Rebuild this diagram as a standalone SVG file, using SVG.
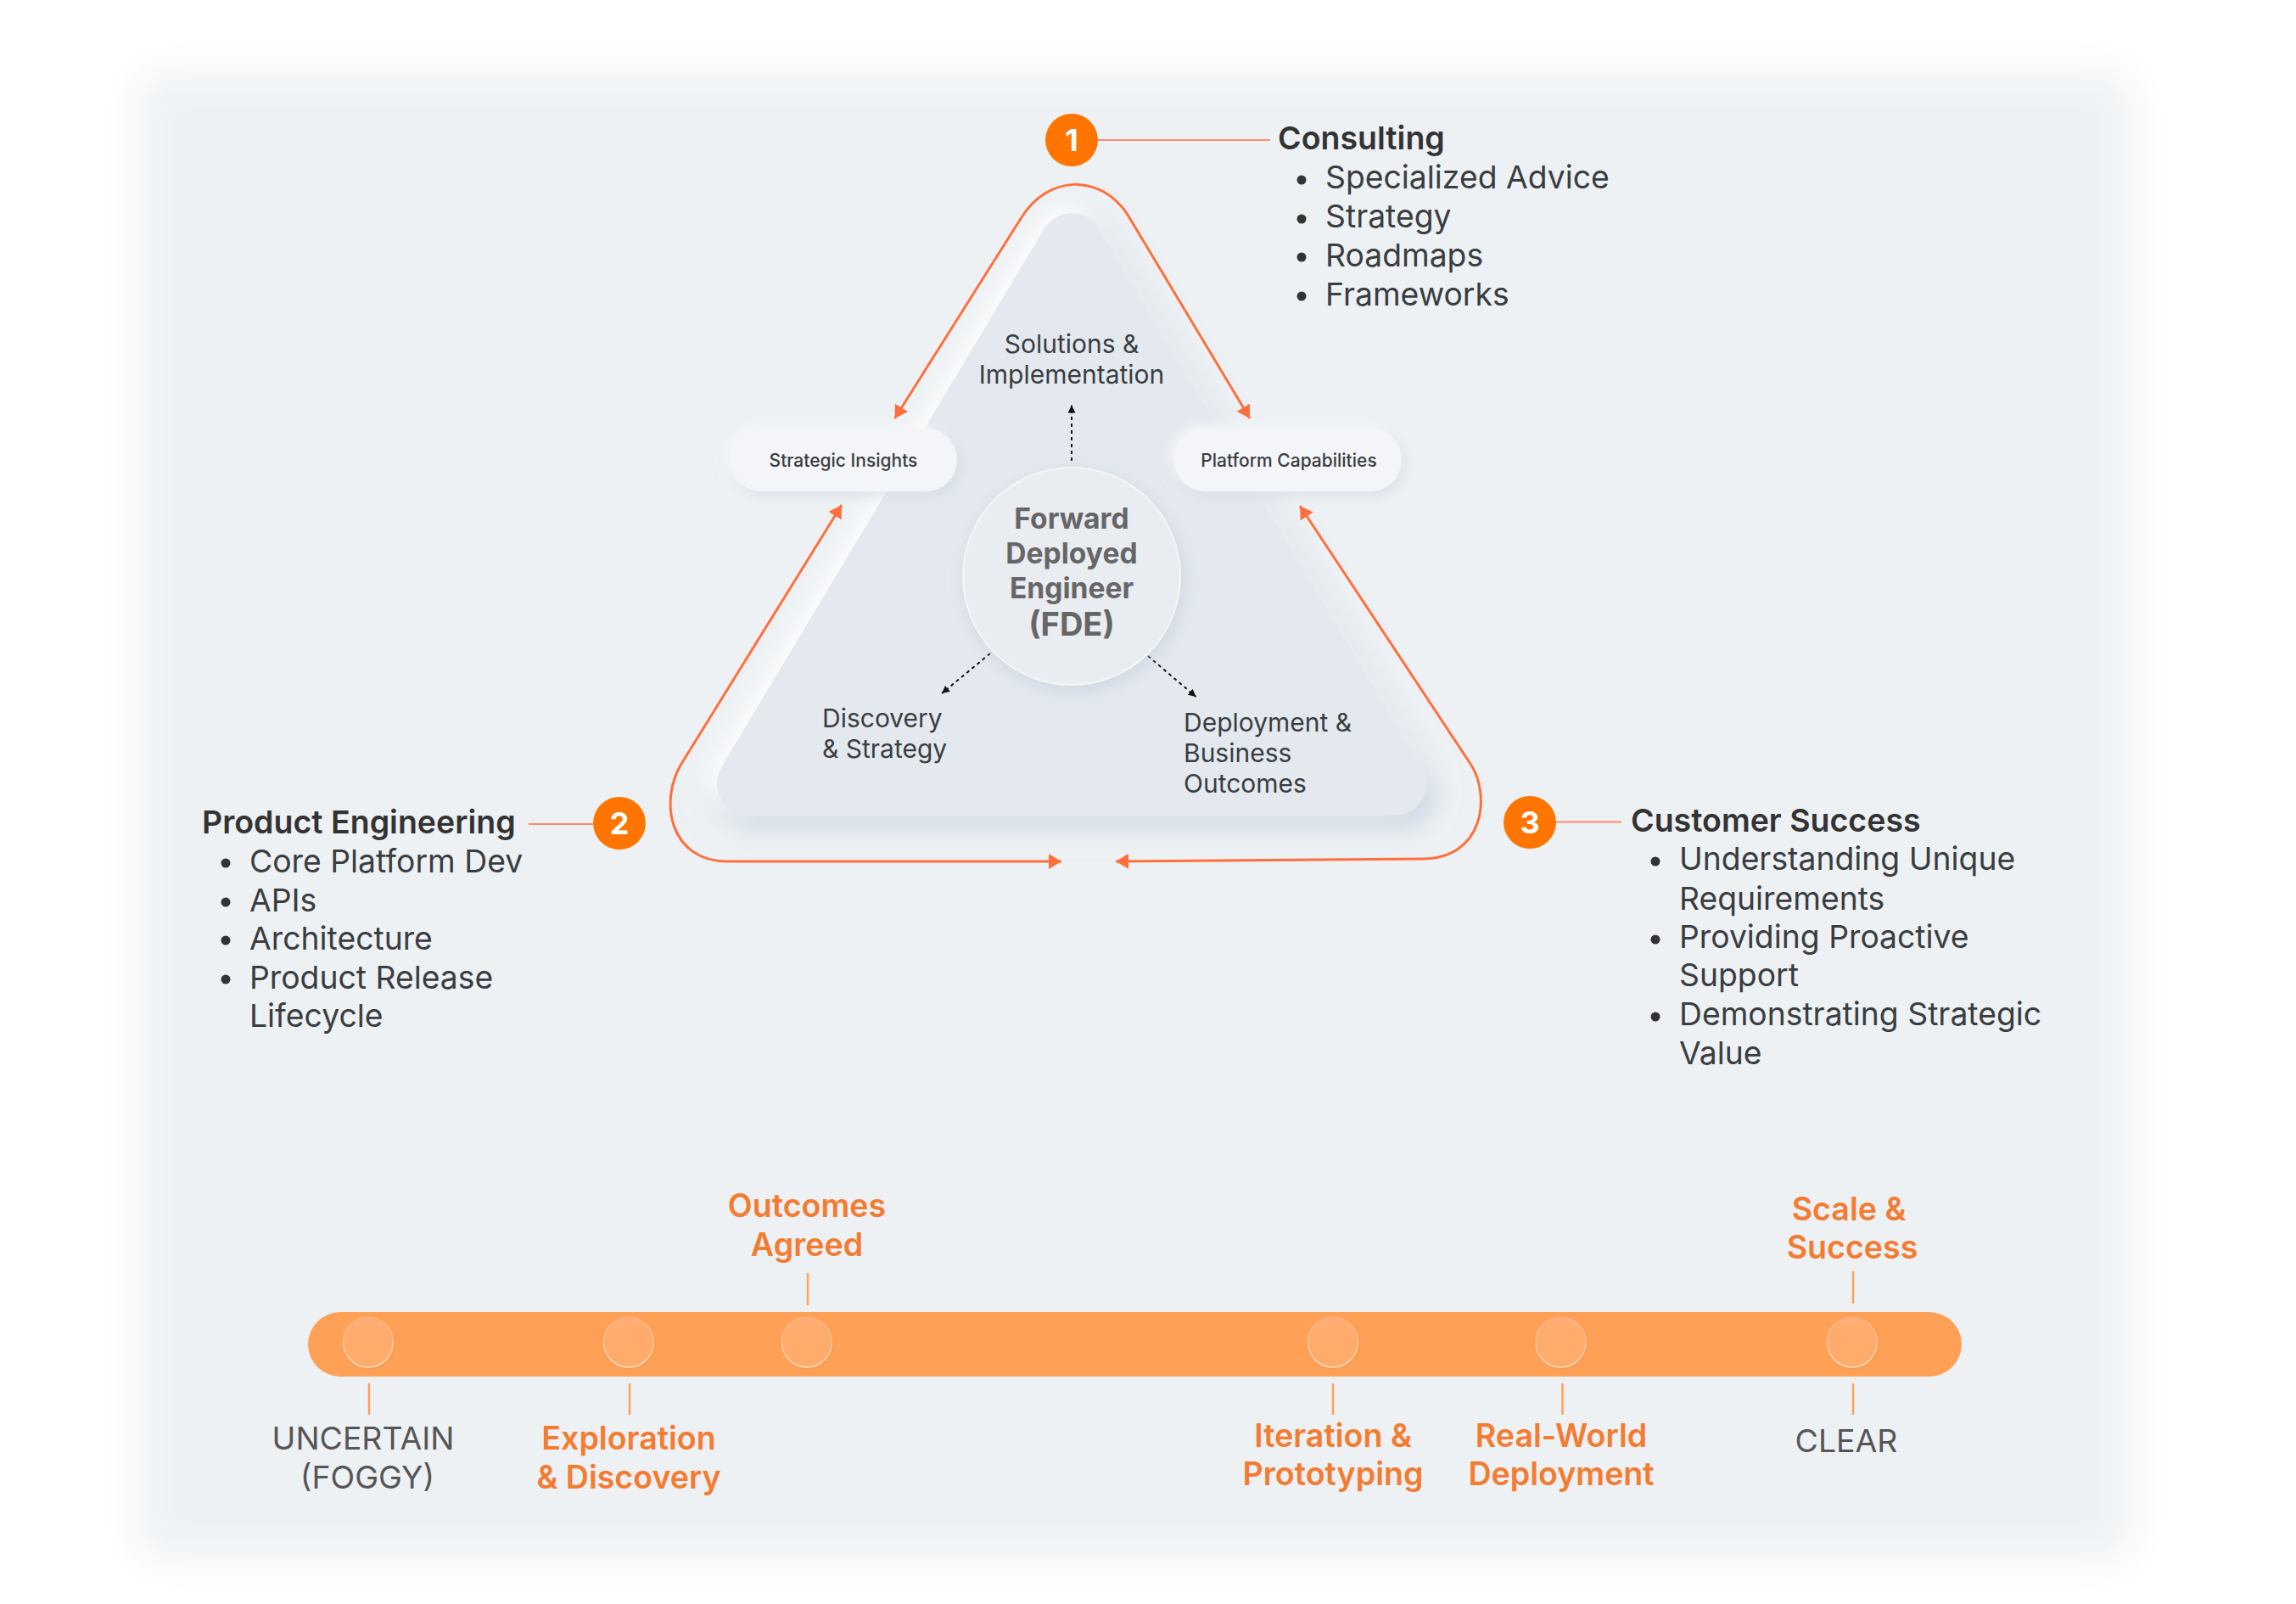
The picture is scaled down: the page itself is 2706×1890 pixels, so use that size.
<svg xmlns="http://www.w3.org/2000/svg" width="2706" height="1890" viewBox="0 0 2706 1890">
<style>
text{font-family:"Inter","Liberation Sans",sans-serif}
.h{font-size:37.500px;font-weight:600;fill:#333}
.b{font-size:37.300px;font-weight:400;fill:#3A3D40}
.l{font-size:30px;font-weight:400;fill:#3A3D40}
.p{font-size:21px;font-weight:500;fill:#3A3D40;text-anchor:middle}
.c{font-size:33.600px;font-weight:700;fill:#666;text-anchor:middle}
.cl{font-size:38px}
.o{font-size:37.600px;font-weight:600;fill:#F47B30;text-anchor:middle}
.g{font-size:37.400px;font-weight:400;fill:#555;text-anchor:middle}
.n{font-size:36px;font-weight:700;fill:#fff;text-anchor:middle}
.dot{fill:#333}
.badge{fill:#FF7500}
.lead{stroke:#FF8A6B;stroke-width:2;fill:none}
.tick{stroke:#FFA057;stroke-width:2.5;fill:none}
.flow{stroke:#FF6F3C;stroke-width:3;fill:none;marker-end:url(#ah)}
.dash{stroke:#111;stroke-width:2;stroke-dasharray:4 4;fill:none;marker-end:url(#dh)}
.knob{fill:url(#kf);stroke:url(#ks);stroke-width:1.5;filter:url(#ksh)}
</style>
<defs>
<marker id="ah" markerUnits="userSpaceOnUse" markerWidth="16" markerHeight="18" refX="15" refY="9" orient="auto"><path d="M0 0L15 9L0 18Z" fill="#FF6F3C"/></marker>
<marker id="dh" markerUnits="userSpaceOnUse" markerWidth="9" markerHeight="9" refX="9" refY="4.5" orient="auto"><path d="M0 0L9 4.5L0 9Z" fill="#111"/></marker>
<linearGradient id="kf" x1="0" y1="0" x2="0" y2="1"><stop offset="0" stop-color="#FFAE74"/><stop offset="0.3" stop-color="#FFAB6D"/><stop offset="1" stop-color="#FFAB6B"/></linearGradient>
<linearGradient id="ks" x1="0" y1="0" x2="0" y2="1"><stop offset="0" stop-color="#FFB27C"/><stop offset="1" stop-color="#FFDDBE"/></linearGradient>
<filter id="bg" x="-5%" y="-5%" width="110%" height="110%"><feGaussianBlur stdDeviation="24"/></filter>
<filter id="tri" x="-15%" y="-15%" width="130%" height="130%"><feDropShadow dx="-12" dy="-10" stdDeviation="14" flood-color="#fff" flood-opacity="0.9"/><feDropShadow dx="10" dy="14" stdDeviation="14" flood-color="#B8C6D8" flood-opacity="0.6"/></filter>
<filter id="pill" x="-20%" y="-50%" width="140%" height="200%"><feDropShadow dx="-5" dy="-5" stdDeviation="6" flood-color="#fff" flood-opacity="0.6"/><feDropShadow dx="4" dy="5" stdDeviation="7" flood-color="#C5CFDC" flood-opacity="0.5"/></filter>
<filter id="core" x="-20%" y="-20%" width="140%" height="140%"><feDropShadow dx="3" dy="6" stdDeviation="10" flood-color="#BCC7D6" flood-opacity="0.55"/></filter>
<filter id="ksh" x="-20%" y="-20%" width="140%" height="140%"><feDropShadow dx="1" dy="1" stdDeviation="1.5" flood-color="#D87F3A" flood-opacity="0.3"/></filter>
</defs>
<rect width="2706" height="1890" fill="#fff"/>
<rect id="panel" x="165" y="88" width="2345" height="1747" rx="10" fill="#EDF1F4" filter="url(#bg)"/>
<g id="triangle"><path d="M1230.4 270A38 38 0 0 1 1295.6 270L1675.5 903.5A38 38 0 0 1 1643 961H883A38 38 0 0 1 850.5 903.5Z" fill="#E4E9F0" filter="url(#tri)"/></g>
<g id="connectors">
<path class="flow" d="M1204 256C1236 205 1298 205 1329 253L1473 493"/>
<path class="flow" d="M1204 256L1054.500 493"/>
<path class="flow" d="M803 900C776 945 790 1015 857 1015H1251"/>
<path class="flow" d="M803 900L992 595"/>
<path class="flow" d="M1733 900C1757 936 1750 1012 1676 1012L1315 1015"/>
<path class="flow" d="M1733 900L1532 596"/>
<path class="dash" d="M1263 543V477.500"/>
<path class="dash" d="M1167 770L1110 817"/>
<path class="dash" d="M1353 773L1409.500 821"/>
<path class="lead" d="M1294 165H1497"/>
<path class="lead" d="M623 971H699"/>
<path class="lead" d="M1834 968.500H1911"/>
<path class="tick" d="M435 1630V1667M742 1630V1667M1571 1630V1667M1841.500 1630V1667M2184 1630V1667M952 1500V1538M2184 1498V1536"/>
</g>
<g id="pill-strategic"><rect x="861" y="505" width="267" height="74" rx="37" fill="#F3F5F8" filter="url(#pill)"/><text class="p" x="994" y="550">Strategic Insights</text></g>
<g id="pill-platform"><rect x="1384" y="505" width="268" height="74" rx="37" fill="#F3F5F8" filter="url(#pill)"/><text class="p" x="1519" y="550">Platform Capabilities</text></g>
<g id="core-node"><circle cx="1263" cy="679" r="128" fill="#E9ECF0" stroke="#F4F6F8" stroke-width="2" filter="url(#core)"/>
<text class="c" x="1263" y="623">Forward</text><text class="c" x="1263" y="664">Deployed</text><text class="c" x="1263" y="705">Engineer</text><text class="c cl" x="1263" y="749">(FDE)</text></g>
<g id="label-solutions"><text class="l" x="1263" y="416" text-anchor="middle">Solutions &amp;</text><text class="l" x="1263" y="452" text-anchor="middle">Implementation</text></g>
<g id="label-discovery"><text class="l" x="969" y="857">Discovery</text><text class="l" x="969" y="893">&amp; Strategy</text></g>
<g id="label-deployment"><text class="l" x="1395" y="862">Deployment &amp;</text><text class="l" x="1395" y="898">Business</text><text class="l" x="1395" y="934">Outcomes</text></g>
<g id="consulting"><circle class="badge" cx="1263" cy="165" r="31"/><text class="n" x="1263" y="178">1</text>
<text class="h" x="1506" y="176">Consulting</text>
<circle class="dot" cx="1534" cy="212" r="5.500"/><text class="b" x="1562" y="222">Specialized Advice</text>
<circle class="dot" cx="1534" cy="258" r="5.500"/><text class="b" x="1562" y="268">Strategy</text>
<circle class="dot" cx="1534" cy="303" r="5.500"/><text class="b" x="1562" y="314">Roadmaps</text>
<circle class="dot" cx="1534" cy="349" r="5.500"/><text class="b" x="1562" y="360">Frameworks</text></g>
<g id="product-engineering"><circle class="badge" cx="730" cy="970" r="31"/><text class="n" x="730" y="983">2</text>
<text class="h" x="238" y="982">Product Engineering</text>
<circle class="dot" cx="266" cy="1017" r="5.500"/><text class="b" x="294" y="1028">Core Platform Dev</text>
<circle class="dot" cx="266" cy="1063" r="5.500"/><text class="b" x="294" y="1074">APIs</text>
<circle class="dot" cx="266" cy="1108" r="5.500"/><text class="b" x="294" y="1119">Architecture</text>
<circle class="dot" cx="266" cy="1154" r="5.500"/><text class="b" x="294" y="1165">Product Release</text><text class="b" x="294" y="1210">Lifecycle</text></g>
<g id="customer-success"><circle class="badge" cx="1803" cy="969" r="31"/><text class="n" x="1803" y="982">3</text>
<text class="h" x="1922" y="980">Customer Success</text>
<circle class="dot" cx="1951" cy="1015" r="5.500"/><text class="b" x="1979" y="1025">Understanding Unique</text><text class="b" x="1979" y="1072">Requirements</text>
<circle class="dot" cx="1951" cy="1107" r="5.500"/><text class="b" x="1979" y="1117">Providing Proactive</text><text class="b" x="1979" y="1162">Support</text>
<circle class="dot" cx="1951" cy="1198" r="5.500"/><text class="b" x="1979" y="1208">Demonstrating Strategic</text><text class="b" x="1979" y="1254">Value</text></g>
<g id="timeline"><rect x="363" y="1546" width="1949" height="76" rx="38" fill="#FFA057"/>
<circle class="knob" cx="434" cy="1581.500" r="29.500"/><circle class="knob" cx="741" cy="1581.500" r="29.500"/><circle class="knob" cx="951" cy="1581.500" r="29.500"/><circle class="knob" cx="1571" cy="1581.500" r="29.500"/><circle class="knob" cx="1839.500" cy="1581.500" r="29.500"/><circle class="knob" cx="2183" cy="1581.500" r="29.500"/></g>
<g id="stage-uncertain"><text class="g" x="428" y="1708">UNCERTAIN</text><text class="g" x="433" y="1754">(FOGGY)</text></g>
<g id="stage-exploration"><text class="o" x="741" y="1708">Exploration</text><text class="o" x="741" y="1754">&amp; Discovery</text></g>
<g id="stage-outcomes"><text class="o" x="951" y="1434">Outcomes</text><text class="o" x="951" y="1480">Agreed</text></g>
<g id="stage-iteration"><text class="o" x="1571" y="1705">Iteration &amp;</text><text class="o" x="1571" y="1750">Prototyping</text></g>
<g id="stage-deployment"><text class="o" x="1840" y="1705">Real-World</text><text class="o" x="1840" y="1750">Deployment</text></g>
<g id="stage-scale"><text class="o" x="2179" y="1438">Scale &amp;</text><text class="o" x="2183" y="1483">Success</text></g>
<g id="stage-clear"><text class="g" x="2176" y="1711">CLEAR</text></g>
</svg>
